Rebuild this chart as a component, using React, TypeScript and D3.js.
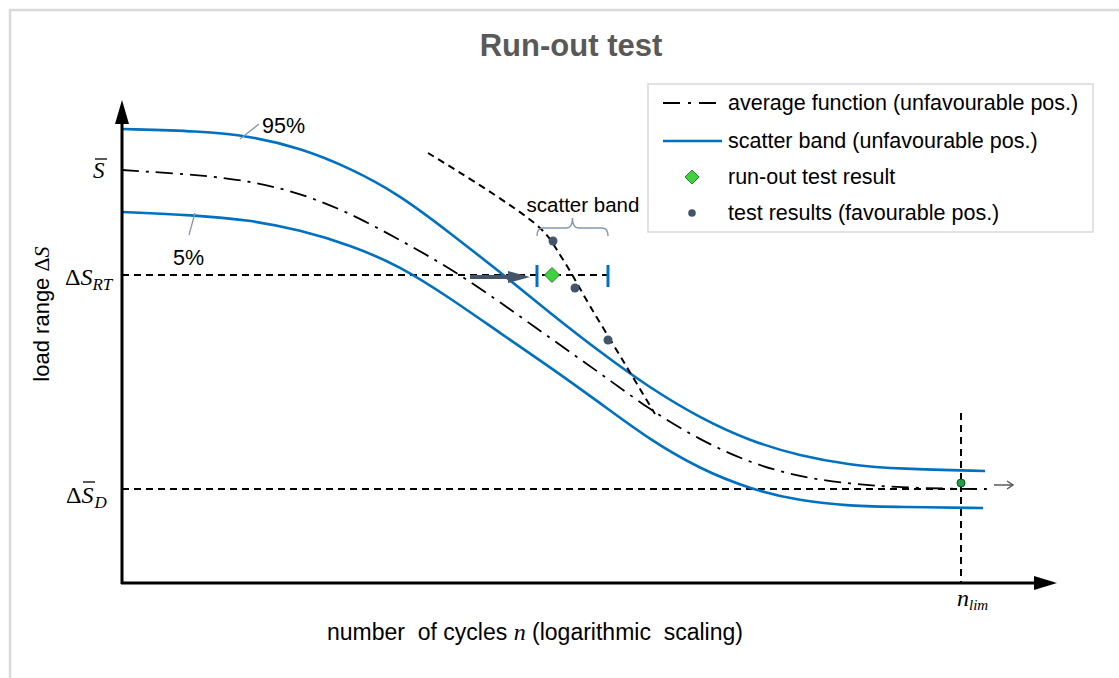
import React from "react";
import * as d3 from "d3";

// abstract units: x = log cycles, y = load range
const band95X = [0, 0.78, 1.28, 1.78, 2.28, 2.78, 3.28, 3.78, 4.28, 4.78, 5.28, 5.78, 6.28, 6.78, 7.28, 7.78, 8.63];
const band95Y = [90.8, 90.4, 89.4, 87.0, 83.0, 77.6, 70.0, 62.2, 54.0, 46.2, 39.0, 33.0, 28.4, 25.4, 23.6, 22.8, 22.4];

const band5X = [0, 0.71, 1.28, 1.78, 2.28, 2.78, 3.28, 3.78, 4.28, 4.78, 5.28, 5.78, 6.28, 6.78, 7.28, 7.78, 8.61];
const band5Y = [74.2, 73.6, 72.6, 70.6, 67.6, 63.4, 57.0, 50.0, 43.2, 36.0, 28.6, 22.8, 18.8, 16.4, 15.4, 15.2, 15.0];

const avgX = [0, 0.78, 1.28, 1.78, 2.28, 2.78, 3.28, 3.78, 4.28, 4.78, 5.28, 5.78, 6.28, 6.78, 7.28, 7.78, 8.38, 8.68];
const avgY = [82.6, 81.6, 80.4, 78.0, 74.0, 68.6, 63.0, 56.2, 49.0, 42.0, 34.6, 28.6, 24.0, 21.2, 19.8, 19.1, 18.8, 18.8];

const testLineX = [3.06, 4.18, 4.4, 4.68, 5.03, 5.33];
const testLineY = [86.0, 71.0, 65.0, 55.4, 43.8, 33.8];

const testPointsX = [4.31, 4.53, 4.86];
const testPointsY = [68.4, 59.0, 48.6];

const levelRT = 61.6;
const levelD = 18.8;
const runOutX = 4.3;
const bandLeft = 4.15;
const bandRight = 4.86;
const arrowFrom = 3.48;
const arrowTo = 4.08;
const nLim = 8.39;
const limPointY = 20.0;

const legendItems = [
  "average function (unfavourable pos.)",
  "scatter band (unfavourable pos.)",
  "run-out test result",
  "test results (favourable pos.)",
];

const BLUE = "#0070C0";
const SLATE = "#44546A";
const BRACE = "#8497B0";
const SANS = "'Liberation Sans', Arial, sans-serif";
const SERIF = "'Liberation Serif', 'DejaVu Serif', serif";

export default function App() {
  const x = d3.scaleLinear().domain([0, 9.35]).range([122, 1057]);
  const y = d3.scaleLinear().domain([0, 96.6]).range([583, 100]);

  const smooth = d3
    .line<[number, number]>()
    .x((d) => x(d[0]))
    .y((d) => y(d[1]))
    .curve(d3.curveBasis);
  const line = d3
    .line<[number, number]>()
    .x((d) => x(d[0]))
    .y((d) => y(d[1]))
    .curve(d3.curveCatmullRom.alpha(0.5));
  const zip = (a: number[], b: number[]) => a.map((v, i) => [v, b[i]] as [number, number]);

  const x0 = x(0);
  const y0 = y(0);
  const yTop = y(96.6);
  const xEnd = x(9.35);

  const rtY = y(levelRT);
  const dY = y(levelD);
  const bl = x(bandLeft);
  const br = x(bandRight);
  const bx = (bl + br) / 2;

  const legendY = [103, 141, 177, 213];

  return (
    <svg
      width={1119}
      height={678}
      style={{ position: "absolute", left: 0, top: 0, background: "#fff" }}
    >
      <rect x={10} y={10} width={1300} height={1000} fill="#fff" stroke="#d9d9d9" strokeWidth={2.5} />
      {/* title */}
      <text x={571} y={56} textAnchor="middle" fontFamily={SANS} fontWeight="bold" fontSize={31} fill="#595959">
        Run-out test
      </text>

      {/* reference dashed lines */}
      <line x1={x0} x2={br} y1={rtY} y2={rtY} stroke="#000" strokeWidth={2} strokeDasharray="7,5" />
      <line x1={x0} x2={x(nLim)} y1={dY} y2={dY} stroke="#000" strokeWidth={2} strokeDasharray="7,5" />
      <line x1={x(nLim)} x2={x(nLim)} y1={y(34)} y2={y0} stroke="#000" strokeWidth={2} strokeDasharray="7,5" />

      {/* curves */}
      <path d={smooth(zip(band95X, band95Y)) || ""} fill="none" stroke={BLUE} strokeWidth={2.6} />
      <path d={smooth(zip(band5X, band5Y)) || ""} fill="none" stroke={BLUE} strokeWidth={2.6} />
      <path
        d={smooth(zip(avgX, avgY)) || ""}
        fill="none"
        stroke="#000"
        strokeWidth={1.8}
        strokeDasharray="17,7,3,7"
      />
      <path
        d={line(zip(testLineX, testLineY)) || ""}
        fill="none"
        stroke="#000"
        strokeWidth={2}
        strokeDasharray="7,5"
      />

      {/* axes */}
      <line x1={x0} x2={x0} y1={y0 + 1} y2={yTop + 20} stroke="#000" strokeWidth={3} />
      <path d={`M${x0},${yTop} L${x0 - 7},${yTop + 24} L${x0 + 7},${yTop + 24} Z`} fill="#000" />
      <line x1={x0 - 1} x2={xEnd - 20} y1={y0} y2={y0} stroke="#000" strokeWidth={3} />
      <path d={`M${xEnd},${y0} L${xEnd - 23},${y0 - 7} L${xEnd - 23},${y0 + 7} Z`} fill="#000" />

      {/* run-out arrow */}
      <line x1={x(arrowFrom)} x2={x(arrowTo) - 18} y1={rtY + 2} y2={rtY + 2} stroke={SLATE} strokeWidth={4} />
      <path
        d={`M${x(arrowTo)},${rtY + 2} L${x(arrowTo) - 22},${rtY - 4} L${x(arrowTo) - 22},${rtY + 8} Z`}
        fill={SLATE}
      />

      {/* scatter band ticks */}
      <line x1={bl} x2={bl} y1={rtY - 10} y2={rtY + 12} stroke={BLUE} strokeWidth={3} />
      <line x1={br} x2={br} y1={rtY - 10} y2={rtY + 12} stroke={BLUE} strokeWidth={3} />

      {/* brace */}
      <path
        d={`M${bl},${rtY - 39} Q${bl},${rtY - 47} ${bl + 6},${rtY - 47} L${bx - 6},${rtY - 47} Q${bx},${rtY - 47} ${bx},${rtY - 57} Q${bx},${rtY - 47} ${bx + 6},${rtY - 47} L${br - 6},${rtY - 47} Q${br},${rtY - 47} ${br},${rtY - 39}`}
        fill="none"
        stroke={BRACE}
        strokeWidth={1.4}
      />
      <text x={583} y={212} textAnchor="middle" fontFamily={SANS} fontSize={20.5} fill="#000">
        scatter band
      </text>

      {/* test points */}
      {testPointsX.map((v, i) => (
        <circle key={i} cx={x(v)} cy={y(testPointsY[i])} r={4.5} fill={SLATE} />
      ))}

      {/* run-out diamond */}
      <path
        d={`M${x(runOutX)},${rtY - 7.5} L${x(runOutX) + 7.5},${rtY} L${x(runOutX)},${rtY + 7.5} L${x(runOutX) - 7.5},${rtY} Z`}
        fill="#3FD23F"
        stroke="#2E7D32"
        strokeWidth={1}
      />

      {/* limit point */}
      <circle cx={x(nLim)} cy={y(limPointY)} r={4} fill="#1FA045" stroke="#0E4D1E" strokeWidth={1} />
      <line x1={x(nLim) + 33} x2={x(nLim) + 51} y1={y(levelD) - 4} y2={y(levelD) - 4} stroke="#595959" strokeWidth={1.5} />
      <path
        d={`M${x(nLim) + 46},${y(levelD) - 8} L${x(nLim) + 52},${y(levelD) - 4} L${x(nLim) + 46},${y(levelD)}`}
        fill="none"
        stroke="#595959"
        strokeWidth={1.5}
      />

      {/* 95 / 5 labels */}
      <line x1={240} x2={259} y1={139} y2={124} stroke={BRACE} strokeWidth={1.3} />
      <text x={262} y={133} fontFamily={SANS} fontSize={21.5} fill="#000">95%</text>
      <line x1={195} x2={189} y1={213} y2={235} stroke={BRACE} strokeWidth={1.3} />
      <text x={173} y={265} fontFamily={SANS} fontSize={21.5} fill="#000">5%</text>

      {/* y labels */}
      <text x={93} y={178} fontFamily={SERIF} fontStyle="italic" fontSize={23} fill="#000">S</text>
      <line x1={95} x2={107} y1={159} y2={159} stroke="#000" strokeWidth={1.3} />

      <text x={65} y={285} fontFamily={SERIF} fontSize={24} fill="#000">
        Δ<tspan fontStyle="italic">S</tspan>
        <tspan fontStyle="italic" fontSize={17} dy={5}>RT</tspan>
      </text>

      <text x={66} y={503} fontFamily={SERIF} fontSize={24} fill="#000">
        Δ<tspan fontStyle="italic">S</tspan>
        <tspan fontStyle="italic" fontSize={17} dy={5} dx={1}>D</tspan>
      </text>
      <line x1={83} x2={95} y1={482} y2={482} stroke="#000" strokeWidth={1.3} />

      {/* n_lim */}
      <text x={957} y={606} fontFamily={SERIF} fontStyle="italic" fontSize={24} fill="#000">
        n<tspan fontSize={15} dy={4}>lim</tspan>
      </text>

      {/* axis titles */}
      <text x={327} y={640} fontFamily={SANS} fontSize={23} fill="#000" xmlSpace="preserve">
        {"number  of cycles "}
        <tspan fontFamily={SERIF} fontStyle="italic" fontSize={24}>n</tspan>
        {" (logarithmic  scaling)"}
      </text>
      <text
        transform="translate(49,314) rotate(-90)"
        textAnchor="middle"
        fontFamily={SANS}
        fontSize={22}
        fill="#000"
      >
        load range <tspan fontFamily={SERIF}>Δ</tspan>
        <tspan fontFamily={SERIF} fontStyle="italic">S</tspan>
      </text>

      {/* legend */}
      <rect x={648} y={84} width={445} height={148} fill="#fff" stroke="#d9d9d9" strokeWidth={1.5} />
      <line x1={663} x2={722} y1={legendY[0]} y2={legendY[0]} stroke="#000" strokeWidth={2} strokeDasharray="17,8,3,8" />
      <line x1={663} x2={722} y1={legendY[1]} y2={legendY[1]} stroke={BLUE} strokeWidth={2.6} />
      <path
        d={`M692,${legendY[2] - 7} L699,${legendY[2]} L692,${legendY[2] + 7} L685,${legendY[2]} Z`}
        fill="#3FD23F"
        stroke="#2E7D32"
        strokeWidth={1}
      />
      <circle cx={692} cy={legendY[3]} r={3.8} fill={SLATE} />
      {legendItems.map((t, i) => (
        <text key={t} x={728} y={legendY[i] + 7} fontFamily={SANS} fontSize={21.5} fill="#000">
          {t}
        </text>
      ))}
    </svg>
  );
}
